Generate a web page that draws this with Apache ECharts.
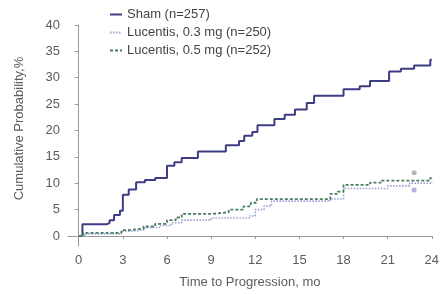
<!DOCTYPE html>
<html>
<head>
<meta charset="utf-8">
<script src="https://cdn.jsdelivr.net/npm/echarts@6/dist/echarts.min.js"></script>
<style>
  html, body { margin: 0; padding: 0; background: #fff; }
  #chart { width: 442px; height: 294px; }
</style>
</head>
<body>
<div id="chart"></div>
<script>
// Kaplan-Meier style step data (months, %)
const shamTime = [0, 0.25, 1.9, 2.1, 2.4, 2.8, 3.0, 3.4, 3.9, 4.5, 5.2, 6.0, 6.5, 7.0, 8.1, 10.0, 10.9, 11.25, 11.8, 12.15, 13.3, 14.0, 14.7, 15.5, 16.0, 18.0, 19.1, 19.8, 21.1, 21.9, 22.8, 23.9, 24]
const shamProb = [0, 2.2, 2.5, 3.0, 4.0, 4.8, 7.8, 8.8, 10.2, 10.6, 11.0, 13.3, 14.0, 14.8, 16.0, 17.2, 18.0, 19.0, 19.7, 21.0, 22.2, 23.0, 24.0, 25.2, 26.6, 27.8, 28.4, 29.4, 31.2, 31.7, 32.3, 33.4, 33.4]

const luc03Time = [0, 0.4, 2.9, 3.6, 4.5, 5.5, 6.3, 7.0, 9.0, 11.6, 12.0, 12.6, 13.1, 17.1, 18.0, 21.0, 22.5, 24]
const luc03Prob = [0, 0.4, 0.9, 1.2, 1.6, 2.0, 2.5, 3.0, 3.4, 3.8, 5.0, 5.7, 6.6, 7.0, 9.0, 9.5, 10.0, 10.3]

const luc05Time = [0, 0.3, 2.9, 3.4, 4.4, 5.2, 6.0, 6.6, 7.0, 9.1, 10.2, 11.2, 11.7, 12.1, 17.1, 17.6, 18.0, 19.8, 20.6, 23.9, 24]
const luc05Prob = [0, 0.6, 1.1, 1.4, 1.8, 2.3, 3.0, 3.5, 4.2, 4.5, 5.0, 5.6, 6.3, 7.0, 8.0, 8.4, 9.7, 10.1, 10.5, 11.0, 11.0]

// stray marks near month 23
const markTime = [22.8, 22.8]
const markProb = [12.0, 8.7]

const xTicks = [0, 3, 6, 9, 12, 15, 18, 21, 24]
const yTicks = [0, 5, 10, 15, 20, 25, 30, 35, 40]

const seriesNames = ['Sham (n=257)', 'Lucentis, 0.3 mg (n=250)', 'Lucentis, 0.5 mg (n=252)']

const pairs = (xs, ys) => xs.map((x, i) => [x, ys[i]])

const font = 'Liberation Sans, Arial, sans-serif'
const axisGray = '#9a9a9a'
const textGray = '#5c5c5c'

const chart = echarts.init(document.getElementById('chart'))

chart.setOption({
  animation: false,
  textStyle: { fontFamily: font },
  legend: {
    data: seriesNames,
    orient: 'vertical',
    left: 104,
    top: 3,
    itemWidth: 12,
    itemHeight: 8,
    itemGap: 5,
    itemStyle: { opacity: 0 },
    textStyle: { color: '#444', fontSize: 13, fontFamily: font },
  },
  grid: { left: 68, right: 2, top: 25, bottom: 46 },
  xAxis: {
    type: 'value',
    min: -0.73,
    max: 24,
    splitLine: { show: false },
    axisLine: { lineStyle: { color: axisGray } },
    axisTick: { customValues: xTicks, length: 3, lineStyle: { color: axisGray } },
    axisLabel: { customValues: xTicks, color: textGray, fontSize: 13, margin: 8 },
    name: 'Time to Progression, mo',
    nameLocation: 'middle',
    nameGap: 30,
    nameTextStyle: { color: textGray, fontSize: 13 },
  },
  yAxis: {
    type: 'value',
    min: -1.9,
    max: 40,
    splitLine: { show: false },
    axisLine: { show: true, lineStyle: { color: axisGray } },
    axisTick: { show: true, customValues: yTicks, length: 4, lineStyle: { color: axisGray } },
    axisLabel: { customValues: yTicks, color: textGray, fontSize: 13, margin: 8 },
    name: 'Cumulative Probability,%',
    nameLocation: 'middle',
    nameGap: 42,
    nameTextStyle: { color: textGray, fontSize: 13, padding: [0, 0, 0, 14] },
  },
  series: [
    {
      name: seriesNames[0],
      type: 'line',
      step: 'end',
      data: pairs(shamTime, shamProb),
      symbol: 'none',
      lineStyle: { color: '#3d3d84', width: 2 },
      itemStyle: { color: '#3d3d84' },
    },
    {
      name: seriesNames[1],
      type: 'line',
      step: 'end',
      data: pairs(luc03Time, luc03Prob),
      symbol: 'none',
      lineStyle: { color: '#9d9dd8', width: 1.6, type: [1.5, 1.5] },
      itemStyle: { color: '#9d9dd8' },
    },
    {
      name: seriesNames[2],
      type: 'line',
      step: 'end',
      data: pairs(luc05Time, luc05Prob),
      symbol: 'none',
      lineStyle: { color: '#4a7d62', width: 1.8, type: [3, 2] },
      itemStyle: { color: '#4a7d62' },
    },
    {
      type: 'scatter',
      data: pairs(markTime, markProb),
      symbol: 'circle',
      symbolSize: 5,
      itemStyle: {
        color: (p) => (p.dataIndex === 0 ? '#9aa8a0' : '#9d9dd8'),
      },
      silent: true,
    },
  ],
})
</script>
</body>
</html>
